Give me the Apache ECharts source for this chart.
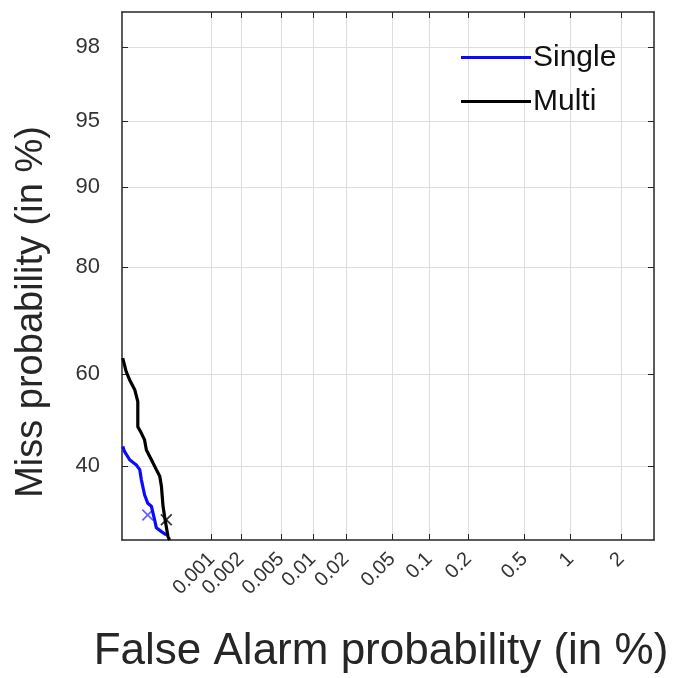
<!DOCTYPE html>
<html>
<head>
<meta charset="utf-8">
<title>DET</title>
<script src="https://cdn.jsdelivr.net/npm/echarts@6/dist/echarts.min.js"></script>
<style>
  html, body { margin: 0; padding: 0; background: #fff; }
  #main { width: 685px; height: 678px; }
</style>
</head>
<body>
<div id="main"></div>
<script>
// tick positions of the normal-deviate axes (in %)
const faTicks = [0.001, 0.002, 0.005, 0.01, 0.02, 0.05, 0.1, 0.2, 0.5, 1, 2]
const missTicks = [40, 60, 80, 90, 95, 98]
// visible range of the axes (in %)
const faRange = [0.000102, 3.03]
const missRange = [25.4, 98.77]

// Single
const singleFA = [0.000104, 0.000109, 0.000125, 0.000149, 0.000163, 0.000170, 0.000185, 0.000201, 0.000221, 0.000240, 0.000251, 0.000286, 0.000324]
const singleMiss = [44.2, 43.1, 41.3, 40.2, 39.2, 37.1, 34.0, 32.3, 31.7, 29.1, 27.6, 26.9, 26.3]
// Multi
const multiFA = [0.000104, 0.000109, 0.000114, 0.000125, 0.000143, 0.000155, 0.000155, 0.000170, 0.000185, 0.000194, 0.000221, 0.000251, 0.000274, 0.000286, 0.000298, 0.000310, 0.000324, 0.000338, 0.000352]
const multiMiss = [63.3, 61.9, 60.5, 58.7, 56.6, 54.0, 48.5, 47.1, 45.6, 43.4, 41.3, 39.2, 37.8, 35.7, 31.7, 29.7, 27.8, 26.0, 25.4]
// 'x' marks on the curves
const singleMarkFA = [0.000201]
const singleMarkMiss = [30.0]
const multiMarkFA = [0.000324]
const multiMarkMiss = [29.1]

// inverse normal cdf (Acklam)
function probit (p) {
  const a = [-3.969683028665376e+01, 2.209460984245205e+02, -2.759285104469687e+02, 1.383577518672690e+02, -3.066479806614716e+01, 2.506628277459239e+00]
  const b = [-5.447609879822406e+01, 1.615858368580409e+02, -1.556989798598866e+02, 6.680131188771972e+01, -1.328068155288572e+01]
  const c = [-7.784894002430293e-03, -3.223964580411365e-01, -2.400758277161838e+00, -2.549732539343734e+00, 4.374664141464968e+00, 2.938163982698783e+00]
  const d = [7.784695709041462e-03, 3.224671290700398e-01, 2.445134137142996e+00, 3.754408661907416e+00]
  const pl = 0.02425
  let q, r
  if (p < pl) {
    q = Math.sqrt(-2 * Math.log(p))
    return (((((c[0] * q + c[1]) * q + c[2]) * q + c[3]) * q + c[4]) * q + c[5]) / ((((d[0] * q + d[1]) * q + d[2]) * q + d[3]) * q + 1)
  }
  if (p <= 1 - pl) {
    q = p - 0.5
    r = q * q
    return (((((a[0] * r + a[1]) * r + a[2]) * r + a[3]) * r + a[4]) * r + a[5]) * q / (((((b[0] * r + b[1]) * r + b[2]) * r + b[3]) * r + b[4]) * r + 1)
  }
  q = Math.sqrt(-2 * Math.log(1 - p))
  return -(((((c[0] * q + c[1]) * q + c[2]) * q + c[3]) * q + c[4]) * q + c[5]) / ((((d[0] * q + d[1]) * q + d[2]) * q + d[3]) * q + 1)
}
const dev = pct => probit(pct / 100)
const pairs = (xs, ys) => xs.map((x, i) => [dev(x), dev(ys[i])])
const tickText = (ticks, v) => {
  let t = ticks.find(t => Math.abs(dev(t) - v) < 1e-6)
  return t === undefined ? '' : String(t)
}

const FONT = '"Liberation Sans", Arial, Helvetica, sans-serif'
const AXIS_COLOR = '#262626'
const GRID_COLOR = '#dedede'
const CROSS = 'path://M0,1L1,0L5,4L9,0L10,1L6,5L10,9L9,10L5,6L1,10L0,9L4,5Z'

let xBase = {
  type: 'value',
  gridIndex: 0,
  min: dev(faRange[0]),
  max: dev(faRange[1]),
  axisLine: { onZero: false, lineStyle: { color: AXIS_COLOR, width: 1.5 } },
  axisTick: { inside: true, length: 6, customValues: faTicks.map(dev), lineStyle: { color: AXIS_COLOR } }
}
let yBase = {
  type: 'value',
  gridIndex: 0,
  min: dev(missRange[0]),
  max: dev(missRange[1]),
  axisLine: { onZero: false, lineStyle: { color: AXIS_COLOR, width: 1.5 } },
  axisTick: { inside: true, length: 6, customValues: missTicks.map(dev), lineStyle: { color: AXIS_COLOR } }
}

let chart = echarts.init(document.getElementById('main'))
let option = {
  animation: false,
  backgroundColor: '#fff',
  textStyle: { fontFamily: FONT },
  grid: { left: 122, right: 31, top: 12, bottom: 138 },
  legend: {
    data: ['Single', 'Multi'],
    orient: 'vertical',
    left: 456,
    top: 37,
    icon: 'rect',
    itemWidth: 70,
    itemHeight: 3,
    itemGap: 13,
    textStyle: { fontSize: 30, lineHeight: 31, color: '#111', fontFamily: FONT, padding: [0, 0, 0, -3] }
  },
  xAxis: [
    Object.assign({}, xBase, {
      position: 'bottom',
      axisLabel: {
        customValues: faTicks.map(dev),
        rotate: 45,
        margin: 16,
        fontSize: 20,
        color: '#333',
        formatter: v => tickText(faTicks, v)
      },
      splitLine: { show: true, lineStyle: { color: GRID_COLOR, width: 1 } }
    }),
    Object.assign({}, xBase, {
      position: 'top',
      axisLabel: { show: false },
      splitLine: { show: false }
    })
  ],
  yAxis: [
    Object.assign({}, yBase, {
      position: 'left',
      axisLabel: {
        customValues: missTicks.map(dev),
        margin: 22,
        fontSize: 22,
        color: '#333',
        formatter: v => tickText(missTicks, v)
      },
      splitLine: { show: true, lineStyle: { color: GRID_COLOR, width: 1 } }
    }),
    Object.assign({}, yBase, {
      position: 'right',
      axisLabel: { show: false },
      splitLine: { show: false }
    })
  ],
  series: [
    {
      name: 'Single',
      type: 'line',
      data: pairs(singleFA, singleMiss),
      symbol: 'none',
      lineStyle: { color: '#0a0aff', width: 3.2 },
      itemStyle: { color: '#0a0aff' }
    },
    {
      name: 'Multi',
      type: 'line',
      data: pairs(multiFA, multiMiss),
      symbol: 'none',
      lineStyle: { color: '#000', width: 3.2 },
      itemStyle: { color: '#000' }
    },
    {
      name: 'singleMark',
      type: 'scatter',
      data: pairs(singleMarkFA, singleMarkMiss),
      symbol: CROSS,
      symbolSize: 12,
      itemStyle: { color: '#3a3aff' }
    },
    {
      name: 'multiMark',
      type: 'scatter',
      data: pairs(multiMarkFA, multiMarkMiss),
      symbol: CROSS,
      symbolSize: 12,
      itemStyle: { color: '#000' }
    }
  ],
  graphic: [
    {
      type: 'text',
      x: 381,
      y: 652,
      style: {
        text: 'False Alarm probability (in %)',
        font: '44px ' + FONT,
        fill: AXIS_COLOR,
        align: 'center',
        verticalAlign: 'middle',
        textAlign: 'center',
        textVerticalAlign: 'middle'
      }
    },
    {
      type: 'text',
      x: 32,
      y: 312,
      rotation: Math.PI / 2,
      style: {
        text: 'Miss probability (in %)',
        font: '38px ' + FONT,
        fill: AXIS_COLOR,
        align: 'center',
        verticalAlign: 'middle',
        textAlign: 'center',
        textVerticalAlign: 'middle'
      }
    }
  ]
}
chart.setOption(option)
</script>
</body>
</html>
